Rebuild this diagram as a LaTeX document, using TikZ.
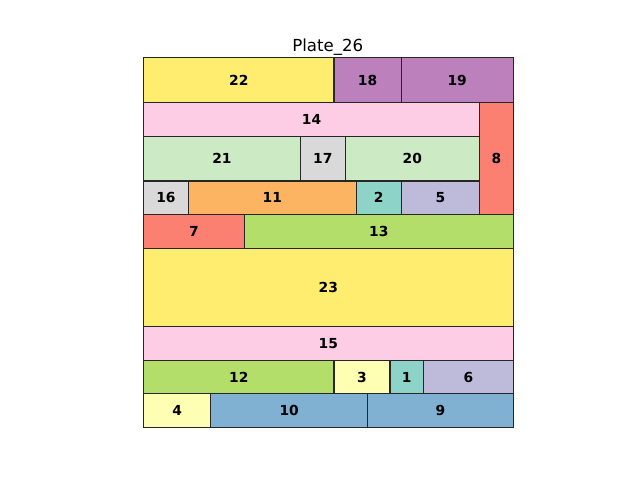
\documentclass[tikz,border=0pt]{standalone}
\usepackage{fontspec}
\setmainfont{DejaVu Sans}
\usepackage{tikz}
\definecolor{plateEdge}{HTML}{262626}
\definecolor{plateYellow}{HTML}{FFED6F}
\definecolor{platePurple}{HTML}{BC80BD}
\definecolor{platePink}{HTML}{FCCDE5}
\definecolor{plateRed}{HTML}{FB8072}
\definecolor{plateMint}{HTML}{CCEBC5}
\definecolor{plateGray}{HTML}{D9D9D9}
\definecolor{plateOrange}{HTML}{FDB462}
\definecolor{plateTeal}{HTML}{8DD3C7}
\definecolor{plateLilac}{HTML}{BEBADA}
\definecolor{plateGreen}{HTML}{B3DE69}
\definecolor{plateCream}{HTML}{FFFFB3}
\definecolor{plateBlue}{HTML}{80B1D3}
\tikzset{
  every picture/.style={font=\fontsize{10}{12}\selectfont, text=black},
  plate piece/.style={draw=plateEdge, line width=0.8pt, anchor=south west,
    inner sep=0pt, font=\fontsize{10}{12}\selectfont\bfseries},
  plate title/.style={anchor=base, font=\fontsize{12}{14}\selectfont}
}

\begin{document}
\begin{tikzpicture}[x=0.112in,y=0.112in]
  \useasboundingbox (-1.43in,-0.52in) rectangle (4.97in,4.28in);
  % top row
  \node[plate piece, fill=plateYellow, minimum width=17*0.112in, minimum height=4*0.112in] (p22) at (0,29) {22};
  \node[plate piece, fill=platePurple, minimum width=6*0.112in, minimum height=4*0.112in] (p18) at (17,29) {18};
  \node[plate piece, fill=platePurple, minimum width=10*0.112in, minimum height=4*0.112in] (p19) at (23,29) {19};
  \node[plate piece, fill=platePink, minimum width=30*0.112in, minimum height=3*0.112in] (p14) at (0,26) {14};
  \node[plate piece, fill=plateRed, minimum width=3*0.112in, minimum height=10*0.112in] (p8) at (30,19) {8};
  \node[plate piece, fill=plateMint, minimum width=14*0.112in, minimum height=4*0.112in] (p21) at (0,22) {21};
  \node[plate piece, fill=plateGray, minimum width=4*0.112in, minimum height=4*0.112in] (p17) at (14,22) {17};
  \node[plate piece, fill=plateMint, minimum width=12*0.112in, minimum height=4*0.112in] (p20) at (18,22) {20};
  \node[plate piece, fill=plateGray, minimum width=4*0.112in, minimum height=3*0.112in] (p16) at (0,19) {16};
  \node[plate piece, fill=plateOrange, minimum width=15*0.112in, minimum height=3*0.112in] (p11) at (4,19) {11};
  \node[plate piece, fill=plateTeal, minimum width=4*0.112in, minimum height=3*0.112in] (p2) at (19,19) {2};
  \node[plate piece, fill=plateLilac, minimum width=7*0.112in, minimum height=3*0.112in] (p5) at (23,19) {5};
  \node[plate piece, fill=plateRed, minimum width=9*0.112in, minimum height=3*0.112in] (p7) at (0,16) {7};
  \node[plate piece, fill=plateGreen, minimum width=24*0.112in, minimum height=3*0.112in] (p13) at (9,16) {13};
  % wide strips
  \node[plate piece, fill=plateYellow, minimum width=33*0.112in, minimum height=7*0.112in] (p23) at (0,9) {23};
  \node[plate piece, fill=platePink, minimum width=33*0.112in, minimum height=3*0.112in] (p15) at (0,6) {15};
  % bottom rows
  \node[plate piece, fill=plateGreen, minimum width=17*0.112in, minimum height=3*0.112in] (p12) at (0,3) {12};
  \node[plate piece, fill=plateCream, minimum width=5*0.112in, minimum height=3*0.112in] (p3) at (17,3) {3};
  \node[plate piece, fill=plateTeal, minimum width=3*0.112in, minimum height=3*0.112in] (p1) at (22,3) {1};
  \node[plate piece, fill=plateLilac, minimum width=8*0.112in, minimum height=3*0.112in] (p6) at (25,3) {6};
  \node[plate piece, fill=plateCream, minimum width=6*0.112in, minimum height=3*0.112in] (p4) at (0,0) {4};
  \node[plate piece, fill=plateBlue, minimum width=14*0.112in, minimum height=3*0.112in] (p10) at (6,0) {10};
  \node[plate piece, fill=plateBlue, minimum width=13*0.112in, minimum height=3*0.112in] (p9) at (20,0) {9};
  \node[plate title] (title) at (16.5,33.6) {Plate\_26};
\end{tikzpicture}
\end{document}
